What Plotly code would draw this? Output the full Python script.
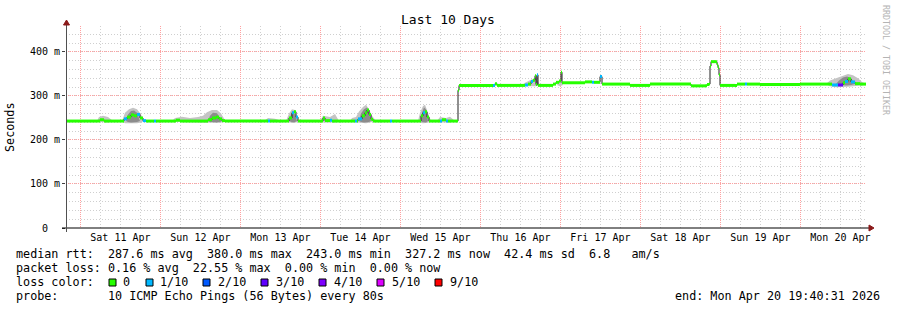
import pandas as pd
import plotly.graph_objects as go

# ---------------- data ----------------
START = pd.Timestamp("2026-04-10 19:40:31")
END = pd.Timestamp("2026-04-20 19:40:31")

# median RTT (ms), hours after START, loss count (of 10)
med_hours = [0, 9.6, 10.2, 11.4, 16.2, 17.4, 18.3, 19.5, 20.4, 21.3, 22.2, 23.1, 24.0, 26.4, 27.0,
             32.1, 33.0, 34.2, 41.7, 42.6, 43.8, 45.0, 45.9, 46.8, 47.7, 60.6, 61.2, 66.3, 66.9,
             67.8, 68.4, 69.0, 69.6, 76.8, 77.1, 77.7, 79.2, 79.8, 86.7, 87.3, 87.6, 88.8, 89.7,
             90.3, 90.9, 91.5, 92.1, 97.2, 97.8, 105.9, 106.5, 107.1, 107.7, 108.3, 108.9, 112.2,
             112.8, 114.0, 114.6, 117.3, 117.6, 117.9, 128.1, 128.7, 129.3, 137.7, 138.6, 139.5,
             140.1, 140.7, 141.0, 141.3, 141.6, 144.6, 146.1, 147.0, 147.9, 148.5, 148.8, 154.2,
             155.7, 157.8, 158.4, 160.2, 160.8, 169.2, 171.0, 175.2, 187.2, 187.5, 191.7, 192.3,
             192.9, 193.2, 193.5, 195.0, 195.3, 195.6, 195.9, 196.2, 200.7, 201.3, 203.7, 204.3,
             208.2, 220.2, 228.6, 229.8, 231.6, 233.1, 233.7, 234.6, 235.5, 236.7, 238.2, 240.0]
med_ms = [243, 243, 246, 243, 243, 248, 252, 257, 255, 258, 250, 244, 243, 243, 243,
          243, 245, 243, 243, 246, 250, 252, 248, 244, 243, 243, 243, 243, 250,
          262, 264, 252, 243, 243, 250, 244, 245, 243, 243, 243, 248, 255, 262,
          268, 258, 247, 243, 243, 243, 243, 255, 262, 264, 252, 243, 243,
          246, 243, 243, 243, 313, 324, 324, 328, 324, 325, 327, 333,
          336, 346, 326, 348, 324, 324, 327, 331, 334, 354, 330, 330,
          332, 331, 331, 344, 327, 324, 324, 327, 327, 323, 323, 326,
          327, 368, 378, 378, 371, 364, 348, 324, 324, 327, 327, 327,
          326, 327, 327, 325, 325, 330, 333, 339, 332, 328, 327, 326]
med_loss = [0, 0, 0, 0, 0, 1, 0, 0, 0, 1, 0, 1, 0, 1, 0,
            0, 0, 0, 0, 0, 0, 0, 0, 0, 0, 1, 0, 0, 0,
            1, 0, 1, 0, 0, 0, 0, 1, 0, 1, 0, 1, 0, 0,
            0, 0, 0, 0, 1, 0, 0, 0, 1, 0, 0, 0, 1,
            0, 1, 0, 0, 0, 0, 1, 0, 0, 1, 0, 1,
            0, 0, 0, 1, 0, 0, 0, 0, 0, 0, 0, 0,
            0, 1, 0, 1, 0, 0, 0, 0, 0, 0, 0, 0,
            0, 0, 0, 0, 0, 0, 0, 0, 0, 0, 1, 0,
            0, 0, 0, 1, 3, 0, 1, 0, 1, 0, 0, 0]

# outer smoke band (ms)
smoke_hours = [0, 9.3, 9.9, 11.1, 12.6, 14.1, 16.8, 17.7, 18.9, 20.1, 21.3, 22.5, 23.4, 31.8,
               32.7, 34.8, 37.2, 39.6, 41.1, 42.3, 43.8, 45.3, 46.5, 47.7, 48.6, 59.4, 60.6,
               62.7, 64.8, 66.0, 66.9, 67.8, 68.7, 69.6, 70.2, 76.2, 77.1, 79.2, 80.7, 81.9,
               85.2, 85.8, 87.0, 87.9, 89.1, 90.0, 90.9, 91.8, 93.0, 105.6, 106.2, 107.1,
               107.7, 108.6, 109.5, 111.3, 112.2, 114.0, 115.2, 116.7, 117.3, 117.6, 117.9,
               136.8, 137.7, 139.8, 141.0, 142.2, 147.3, 148.2, 149.1, 228.0, 229.2, 231.0,
               233.1, 234.6, 236.1, 237.6, 238.8, 240.0]
smoke_hi = [243, 243, 252, 255, 252, 243, 243, 262, 270, 273, 270, 258, 243, 243,
            250, 253, 250, 252, 255, 263, 268, 268, 260, 245, 243, 243, 250,
            248, 243, 243, 260, 270, 268, 245, 243, 243, 255, 252, 259, 243,
            243, 250, 252, 265, 275, 280, 270, 255, 243, 243, 262, 277,
            280, 262, 243, 243, 252, 250, 253, 243, 243, 313, 325,
            325, 330, 338, 340, 325, 325, 338, 325, 327, 335, 340,
            346, 350, 347, 340, 332, 327]
smoke_lo = [243, 243, 241, 240, 240, 243, 243, 238, 238, 238, 238, 240, 243, 243,
            241, 241, 241, 241, 240, 239, 239, 239, 240, 241, 243, 243, 241,
            241, 243, 243, 240, 239, 239, 241, 243, 243, 240, 240, 240, 243,
            243, 241, 240, 239, 239, 238, 239, 240, 243, 243, 239, 238,
            238, 239, 243, 243, 240, 240, 240, 243, 243, 313, 325,
            325, 322, 322, 322, 325, 325, 322, 325, 327, 322, 320,
            320, 321, 322, 323, 324, 327]

# inner (denser) smoke band (ms)
core_hours = [18.0, 18.6, 19.5, 20.4, 21.3, 22.2, 42.6, 43.2, 44.1, 45.3, 46.2, 46.8,
              66.9, 67.5, 68.1, 68.7, 69.3, 87.9, 88.5, 89.4, 90.3, 90.9, 91.5,
              106.5, 106.8, 107.4, 108.0, 108.6, 231.0, 231.9, 233.1, 234.3, 235.5, 236.7]
core_hi = [243, 258, 266, 267, 262, 243, 243, 255, 262, 261, 250, 243,
           243, 258, 266, 258, 243, 243, 260, 270, 274, 262, 243,
           243, 262, 274, 270, 243, 327, 335, 342, 344, 340, 327]
core_lo = [243, 241, 240, 240, 241, 243, 243, 241, 240, 240, 241, 243,
           243, 241, 240, 241, 243, 243, 241, 240, 240, 241, 243,
           243, 241, 240, 240, 243, 327, 325, 324, 324, 325, 327]

y_ticks = [0, 100, 200, 300, 400]
y_tick_text = ["0\u00a0\u00a0", "100 m", "200 m", "300 m", "400 m"]

loss_levels = [0, 1, 2, 3, 4, 5, 9]
loss_labels = ["0", "1/10", "2/10", "3/10", "4/10", "5/10", "9/10"]
loss_colors = ["#26ff00", "#00b8ff", "#0059ff", "#5e00ff", "#7e00ff", "#dd00ff", "#ff0000"]

title_text = "Last 10 Days"
stat_rtt = "median rtt:  287.6 ms avg  380.0 ms max  243.0 ms min  327.2 ms now  42.4 ms sd  6.8   am/s"
stat_loss = "packet loss: 0.16 % avg  22.55 % max  0.00 % min  0.00 % now"
stat_color = "loss color:"
stat_probe = "probe:       10 ICMP Echo Pings (56 Bytes) every 80s"
stat_end = "end: Mon Apr 20 19:40:31 2026"

# ---------------- geometry helpers ----------------
W, H = 897, 310
L, R, T, B = 66, 31, 26, 82
PW, PH = W - L - R, H - T - B
MONO = "DejaVu Sans Mono"
LEG_SIZE = 11.75


def px(x):
    return (x - L) / PW


def py(y):
    return (H - B - y) / PH


def nb(s):
    return s.replace(" ", "\u00a0")


def to_time(hours):
    return [START + pd.Timedelta(hours=h) for h in hours]


fig = go.Figure()

# smoke
fig.add_trace(go.Scatter(x=to_time(smoke_hours), y=smoke_lo, mode="lines",
                         line=dict(width=0, color="#c4c4c4"), hoverinfo="skip", showlegend=False))
fig.add_trace(go.Scatter(x=to_time(smoke_hours), y=smoke_hi, mode="lines", fill="tonexty",
                         fillcolor="#c4c4c4", line=dict(width=0, color="#c4c4c4"),
                         hoverinfo="skip", showlegend=False))
fig.add_trace(go.Scatter(x=to_time(core_hours), y=core_lo, mode="lines",
                         line=dict(width=0, color="#8c8c8c"), hoverinfo="skip", showlegend=False))
fig.add_trace(go.Scatter(x=to_time(core_hours), y=core_hi, mode="lines", fill="tonexty",
                         fillcolor="#8c8c8c", line=dict(width=0, color="#8c8c8c"),
                         hoverinfo="skip", showlegend=False))

# median black step line
med_t = to_time(med_hours)
fig.add_trace(go.Scatter(x=med_t, y=med_ms, mode="lines",
                         line=dict(color="#202020", width=1, shape="hv"),
                         hoverinfo="skip", showlegend=False))

# loss coloured median segments
for lvl, col in zip(loss_levels, loss_colors):
    xs, ys = [], []
    for i in range(len(med_ms) - 1):
        if med_loss[i] == lvl:
            xs += [med_t[i], med_t[i + 1], None]
            ys += [med_ms[i], med_ms[i], None]
    if xs:
        fig.add_trace(go.Scatter(x=xs, y=ys, mode="lines", line=dict(color=col, width=3),
                                 connectgaps=False, hoverinfo="skip", showlegend=False))

# ---------------- layout ----------------
red_grid = "#ffa0a0"
gray_grid = "#cfcfcf"

fig.update_layout(
    width=W, height=H, margin=dict(l=L, r=R, t=T, b=B),
    paper_bgcolor="white", plot_bgcolor="white",
    font=dict(family=MONO, color="black", size=10),
    showlegend=False,
    xaxis=dict(
        range=[START, END], type="date",
        tick0="2026-04-11 00:00:00", dtick=86400000,
        ticklabelmode="period", tickformat="%a %d %b",
        showgrid=True, gridcolor=red_grid, griddash="1px,1px", gridwidth=1,
        ticks="", showline=False, zeroline=False,
        tickfont=dict(family=MONO, size=10, color="black"),
        ticklabelstandoff=2,
        minor=dict(dtick=21600000, tick0="2026-04-11 00:00:00", showgrid=True,
                   gridcolor=gray_grid, griddash="1px,2px", gridwidth=1),
        fixedrange=True,
    ),
    yaxis=dict(
        range=[0, 459], tickvals=y_ticks, ticktext=y_tick_text,
        showgrid=True, gridcolor=red_grid, griddash="1px,1px", gridwidth=1,
        ticks="outside", ticklen=3, tickcolor="#404040",
        showline=False, zeroline=False,
        tickfont=dict(family=MONO, size=10, color="black"),
        minor=dict(dtick=20, tick0=0, showgrid=True, gridcolor=gray_grid,
                   griddash="1px,2px", gridwidth=1),
        fixedrange=True,
    ),
)

shapes = [
    # x axis line and arrow
    dict(type="line", xref="paper", yref="paper", x0=px(62), x1=px(869), y0=py(228), y1=py(228),
         line=dict(color="black", width=1)),
    dict(type="path", xref="paper", yref="paper",
         path=f"M {px(869)},{py(225)} L {px(874)},{py(228)} L {px(869)},{py(231)} Z",
         fillcolor="#8b1a1a", line=dict(color="#8b1a1a", width=1)),
    # y axis line and arrow
    dict(type="line", xref="paper", yref="paper", x0=px(66.5), x1=px(66.5), y0=py(232), y1=py(24),
         line=dict(color="#505050", width=1)),
    dict(type="path", xref="paper", yref="paper",
         path=f"M {px(63.5)},{py(25)} L {px(66.5)},{py(20)} L {px(69.5)},{py(25)} Z",
         fillcolor="#8b1a1a", line=dict(color="#8b1a1a", width=1)),
]

# loss colour boxes
box_left = [109, 146, 203, 261, 319, 377, 435]
label_left = [123, 160, 218, 276, 334, 392, 450]
for bx, col in zip(box_left, loss_colors):
    shapes.append(dict(type="rect", xref="paper", yref="paper",
                       x0=px(bx), x1=px(bx + 7), y0=py(286), y1=py(279),
                       fillcolor=col, line=dict(color="black", width=1)))

annotations = [
    dict(text=title_text, x=px(448), y=py(20), xanchor="center", yanchor="middle",
         font=dict(family=MONO, size=13, color="black")),
    dict(text="Seconds", x=px(10), y=py(127), textangle=-90, xanchor="center", yanchor="middle",
         font=dict(family=MONO, size=LEG_SIZE, color="black")),
    dict(text=nb("RRDTOOL / TOBI OETIKER"), x=px(886), y=py(60), textangle=90,
         xanchor="center", yanchor="middle", font=dict(family=MONO, size=8.3, color="#b4b4b4")),
    dict(text=nb(stat_rtt), x=px(15), y=py(254), xanchor="left", yanchor="middle"),
    dict(text=nb(stat_loss), x=px(15), y=py(268), xanchor="left", yanchor="middle"),
    dict(text=nb(stat_color), x=px(15), y=py(282), xanchor="left", yanchor="middle"),
    dict(text=nb(stat_probe), x=px(15), y=py(296), xanchor="left", yanchor="middle"),
    dict(text=nb(stat_end), x=px(881), y=py(296), xanchor="right", yanchor="middle"),
]
for lx, lab in zip(label_left, loss_labels):
    annotations.append(dict(text=lab, x=px(lx - 1), y=py(282), xanchor="left", yanchor="middle"))

for a in annotations:
    a.update(xref="paper", yref="paper", showarrow=False)
    a.setdefault("font", dict(family=MONO, size=LEG_SIZE, color="black"))
    a["borderpad"] = 0

fig.update_layout(shapes=shapes, annotations=annotations)

fig.write_html("out.html", config={"displayModeBar": False})
